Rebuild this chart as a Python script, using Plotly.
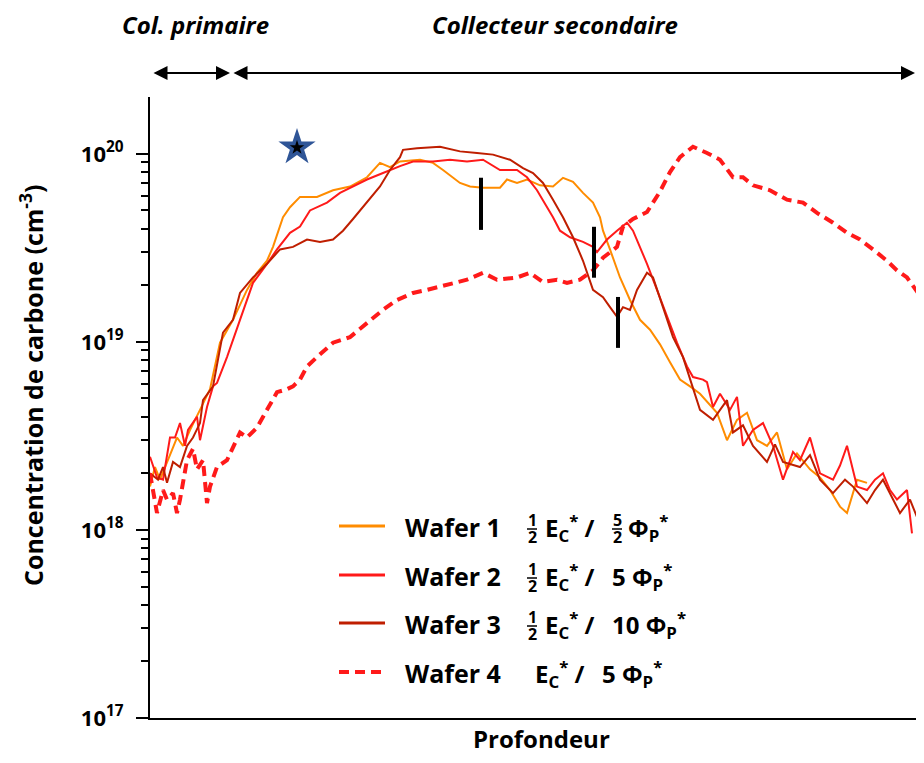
import plotly.graph_objects as go

# ---------------- data (depth in arbitrary units, concentration in cm^-3) ----------------
w1_depth = [0, 5, 10, 17, 27, 33, 40, 50, 60, 70, 83, 97, 107, 117, 123, 133, 140, 150, 167, 183, 200,
            217, 230, 240, 250, 270, 283, 293, 310, 320, 333, 350, 357, 367, 377, 390, 403, 413, 423,
            433, 443, 450, 453, 460, 470, 480, 490, 500, 510, 520, 530, 540, 550, 567, 577, 587, 597,
            607, 617, 627, 637, 647, 660, 670, 680, 690, 697, 707, 717]
w1_conc = [1.7e18, 2.16e18, 1.85e18, 2.3e18, 3.1e18, 2.8e18, 3.4e18, 4.35e18, 5.6e18, 9.9e18, 1.31e19,
           1.89e19, 2.33e19, 2.7e19, 3.2e19, 4.6e19, 5.2e19, 5.9e19, 5.9e19, 6.4e19, 6.7e19,
           7.5e19, 8.95e19, 8.5e19, 9.1e19, 9.3e19, 8.95e19, 8.2e19, 7.0e19, 6.7e19, 6.6e19, 6.6e19,
           7.3e19, 7.0e19, 7.3e19, 6.8e19, 6.7e19, 7.45e19, 7.1e19, 6.2e19, 5.5e19, 4.6e19, 3.9e19,
           3.1e19, 2.2e19, 1.67e19, 1.31e19, 1.16e19, 9.7e18, 7.8e18, 6.3e18, 5.8e18, 5.3e18, 4.2e18,
           3.0e18, 3.85e18, 4.2e18, 3.0e18, 2.8e18, 3.3e18, 2.1e18, 2.55e18, 2.1e18, 1.9e18, 1.63e18,
           1.33e18, 1.23e18, 1.85e18, 1.78e18]

w2_depth = [0, 7, 13, 20, 25, 30, 35, 38, 47, 50, 57, 63, 67, 77, 90, 103, 117, 127, 140, 150, 160,
            177, 190, 203, 217, 233, 240, 250, 263, 283, 300, 317, 333, 350, 367, 377, 387, 397, 403,
            410, 420, 433, 443, 447, 457, 467, 477, 483, 490, 497, 507, 517, 527, 537, 543, 553, 557,
            563, 570, 580, 587, 593, 603, 613, 623, 633, 643, 650, 660, 670, 683, 690, 697, 707, 717,
            725, 733, 740, 747, 757, 762]
w2_conc = [2.45e18, 1.9e18, 1.85e18, 3.1e18, 3.1e18, 3.7e18, 2.8e18, 3.4e18, 4.0e18, 3.0e18, 4.5e18,
           5.8e18, 6.05e18, 8.3e18, 1.31e19, 2.06e19, 2.6e19, 3.1e19, 3.8e19, 4.1e19, 5.0e19,
           5.5e19, 6.2e19, 6.7e19, 7.3e19, 7.9e19, 8.2e19, 8.6e19, 9.1e19, 9.1e19, 9.3e19, 9.1e19,
           9.3e19, 8.2e19, 8.2e19, 7.5e19, 6.4e19, 5.2e19, 4.6e19, 3.9e19, 3.6e19, 3.4e19, 3.2e19,
           3.0e19, 3.5e19, 3.9e19, 4.3e19, 3.9e19, 3.2e19, 2.6e19, 1.89e19, 1.36e19, 9.9e18, 7.4e18,
           6.5e18, 6.3e18, 6.1e18, 4.5e18, 5.3e18, 4.35e18, 5.1e18, 2.8e18, 3.4e18, 3.7e18, 2.8e18,
           1.85e18, 2.6e18, 2.35e18, 3.1e18, 2.0e18, 1.85e18, 2.2e18, 2.8e18, 1.7e18, 1.63e18,
           1.85e18, 2.0e18, 1.63e18, 1.45e18, 1.63e18, 9.6e17]

w3_depth = [0, 8, 13, 17, 23, 30, 37, 43, 50, 53, 63, 67, 73, 83, 90, 103, 117, 130, 143, 157, 170,
            183, 193, 203, 217, 230, 240, 250, 253, 267, 290, 310, 327, 343, 360, 373, 383, 393, 403,
            413, 423, 433, 443, 453, 460, 467, 473, 480, 487, 497, 503, 513, 523, 533, 540, 550, 563,
            577, 583, 593, 603, 617, 625, 633, 650, 660, 670, 683, 695, 703, 717, 725, 733, 743, 750,
            760, 767, 774]
w3_conc = [2.0e18, 1.85e18, 2.16e18, 1.78e18, 2.3e18, 2.16e18, 2.8e18, 3.1e18, 3.7e18, 4.9e18, 5.8e18,
           7.7e18, 1.12e19, 1.31e19, 1.82e19, 2.2e19, 2.6e19, 3.1e19, 3.2e19, 3.5e19, 3.4e19,
           3.5e19, 3.9e19, 4.5e19, 5.5e19, 6.7e19, 8.2e19, 9.6e19, 1.05e20, 1.07e20, 1.09e20, 1.03e20,
           1.01e20, 9.9e19, 9.3e19, 8.4e19, 7.9e19, 7.0e19, 5.7e19, 4.6e19, 3.6e19, 2.7e19, 1.89e19,
           1.73e19, 1.53e19, 1.36e19, 1.53e19, 1.48e19, 1.89e19, 2.33e19, 2.2e19, 1.53e19, 1.06e19,
           8.3e18, 6.3e18, 4.35e18, 3.85e18, 4.9e18, 3.3e18, 3.6e18, 2.8e18, 2.3e18, 2.85e18, 2.3e18,
           2.16e18, 2.5e18, 1.85e18, 1.57e18, 1.85e18, 1.7e18, 1.39e18, 1.63e18, 1.85e18, 1.45e18,
           1.23e18, 1.45e18, 1.17e18, 1.06e18]

w4_depth = [0, 7, 13, 17, 23, 27, 30, 37, 43, 47, 53, 57, 60, 67, 77, 90, 97, 107, 117, 127, 137, 143,
            150, 157, 167, 183, 200, 217, 233, 247, 263, 277, 290, 307, 317, 333, 347, 367, 380, 393,
            407, 417, 430, 443, 453, 467, 473, 483, 497, 510, 520, 530, 543, 557, 570, 583, 593, 603,
            620, 637, 653, 667, 683, 697, 710, 723, 737, 747, 757, 768, 774]
w4_conc = [2.0e18, 1.23e18, 1.63e18, 1.45e18, 1.57e18, 1.23e18, 1.45e18, 2.35e18, 2.7e18, 2.1e18,
           2.35e18, 1.39e18, 1.7e18, 2.16e18, 2.35e18, 3.3e18, 3.1e18, 3.5e18, 4.35e18, 5.4e18,
           5.6e18, 5.8e18, 6.3e18, 7.4e18, 8.3e18, 9.9e18, 1.06e19, 1.26e19, 1.48e19, 1.67e19,
           1.82e19, 1.89e19, 1.96e19, 2.06e19, 2.14e19, 2.33e19, 2.14e19, 2.2e19, 2.33e19, 2.08e19,
           2.14e19, 2.06e19, 2.14e19, 2.4e19, 2.8e19, 3.2e19, 4.1e19, 4.5e19, 4.9e19, 6.3e19, 8.0e19,
           9.6e19, 1.09e20, 1.01e20, 9.3e19, 7.5e19, 7.5e19, 6.8e19, 6.4e19, 5.7e19, 5.5e19, 4.85e19,
           4.3e19, 3.8e19, 3.5e19, 3.1e19, 2.7e19, 2.4e19, 2.2e19, 1.82e19, 1.73e19]

star_depth = [147]
star_conc = [1.08e20]

marker_depth = [331, 444, 468]
marker_top = [0.870, 0.791, 0.678]
marker_bottom = [0.786, 0.709, 0.596]

tick_vals = [1e17, 1e18, 1e19, 1e20]
tick_text = ["10<sup>17</sup>", "10<sup>18</sup>", "10<sup>19</sup>", "10<sup>20</sup>"]
minor_vals = [m * 10.0 ** e for e in range(17, 21) for m in range(2, 10) if m * 10.0 ** e < 2e20]

C1, C2, C3, C4 = "#FF8C00", "#FF1A1A", "#BF1E00", "#FF1A1A"
FONT = "Open Sans"

# the page has the browser's 8px body margin on every side
OFF = 8
W, H = 924 - 2 * OFF, 763 - 2 * OFF
L, R, T = 150 - OFF, 0, 97 - OFF
PH = 621
B = H - T - PH
PW = W - L - R          # 766 px of plot visible in the window
X_MAX = PW              # one depth unit per pixel, as in the reference


def px(x):  # page pixel -> paper x
    return (x - OFF - L) / PW


def py(y):  # page pixel -> paper y
    return (T + PH - (y - OFF)) / PH


fig = go.Figure()
fig.add_trace(go.Scatter(x=w1_depth, y=w1_conc, mode="lines", line=dict(color=C1, width=2)))
fig.add_trace(go.Scatter(x=w2_depth, y=w2_conc, mode="lines", line=dict(color=C2, width=2)))
fig.add_trace(go.Scatter(x=w3_depth, y=w3_conc, mode="lines", line=dict(color=C3, width=2)))
fig.add_trace(go.Scatter(x=w4_depth, y=w4_conc, mode="lines",
                         line=dict(color=C4, width=4, dash="10px,6px")))
fig.add_trace(go.Scatter(x=star_depth, y=star_conc, mode="markers",
                         marker=dict(symbol="star", size=28, color="#2F5597", line=dict(width=0))))
fig.add_trace(go.Scatter(x=star_depth, y=star_conc, mode="markers",
                         marker=dict(symbol="star", size=11, color="black", line=dict(width=0))))

shapes = []
for xd, yt, yb in zip(marker_depth, marker_top, marker_bottom):
    shapes.append(dict(type="line", xref="x", yref="paper", x0=xd, x1=xd, y0=yb, y1=yt,
                       line=dict(color="black", width=4)))

annotations = []
bold = dict(family=FONT, color="black", weight="bold")


def text(x, y, s, size, xanchor="center", angle=0):
    annotations.append(dict(xref="paper", yref="paper", x=px(x), y=py(y), text=s, showarrow=False,
                            xanchor=xanchor, yanchor="middle", textangle=angle,
                            font=dict(size=size, **bold)))


# top labels and arrows
text(195, 25, "<i>Col. primaire</i>", 24)
text(555, 25, "<i>Collecteur secondaire</i>", 24)
for x0, x1 in [(152, 230), (232, 915)]:
    annotations.append(dict(xref="paper", yref="paper", x=px(x1), y=py(73), ax=-(x1 - x0), ay=0,
                            axref="pixel", ayref="pixel", text="", showarrow=True,
                            arrowhead=2, startarrowhead=2, arrowside="end+start",
                            arrowsize=1.4, startarrowsize=1.4, arrowwidth=2, arrowcolor="black"))

# axis titles
text(31, 386, "Concentration de carbone (cm<sup>-3</sup>)", 25, angle=-90)
text(541, 738, "Profondeur", 24)

# legend (manual)
rows = [526, 575, 623, 672]
names = ["Wafer 1", "Wafer 2", "Wafer 3", "Wafer 4"]
colors = [C1, C2, C3, C4]
dashes = ["solid", "solid", "solid", "10px,6px"]
widths = [3, 3, 3, 4]
for yr, nm, col, ds, lw in zip(rows, names, colors, dashes, widths):
    shapes.append(dict(type="line", xref="paper", yref="paper", x0=px(339), x1=px(385),
                       y0=py(yr), y1=py(yr), line=dict(color=col, width=lw, dash=ds)))
    text(403, yr + 1, nm, 25, xanchor="left")


def frac(xc, yr, num, den):
    text(xc, yr - 6, num, 16)
    text(xc, yr + 11, den, 16)
    shapes.append(dict(type="line", xref="paper", yref="paper", x0=px(xc - 5), x1=px(xc + 5),
                       y0=py(yr + 3), y1=py(yr + 3), line=dict(color="black", width=1.5)))


ec = "E<sub>C</sub><sup>*</sup> /"
phi = "\u03a6<sub>P</sub><sup>*</sup>"
for yr in rows[:3]:
    frac(532, yr, "1", "2")
    text(543, yr + 2, ec, 24, xanchor="left")
frac(617, rows[0], "5", "2")
text(626, rows[0] + 2, phi, 24, xanchor="left")
text(610, rows[1] + 2, "5 " + phi, 24, xanchor="left")
text(610, rows[2] + 2, "10 " + phi, 24, xanchor="left")
text(533, rows[3] + 2, ec, 24, xanchor="left")
text(600, rows[3] + 2, "5 " + phi, 24, xanchor="left")

fig.update_layout(
    width=W, height=H,
    margin=dict(l=L, r=R, t=T, b=B, pad=0, autoexpand=False),
    paper_bgcolor="white", plot_bgcolor="white",
    showlegend=False,
    shapes=shapes, annotations=annotations,
    font=dict(family=FONT, color="black"),
)
fig.update_xaxes(range=[0, X_MAX], showgrid=False, zeroline=False, showline=True, linecolor="black",
                 linewidth=2, showticklabels=False, ticks="")
fig.update_yaxes(type="log", range=[17, 20.302], showgrid=False, zeroline=False, showline=True,
                 linecolor="black", linewidth=2, tickmode="array", tickvals=tick_vals, ticktext=tick_text,
                 ticks="outside", ticklen=12, tickwidth=2, tickcolor="black",
                 tickfont=dict(size=22, family=FONT, color="black", weight="bold"),
                 ticklabelstandoff=8,
                 minor=dict(tickmode="array", tickvals=minor_vals, ticks="outside", ticklen=7,
                            tickwidth=2, tickcolor="black"))

fig.write_html("out.html")
